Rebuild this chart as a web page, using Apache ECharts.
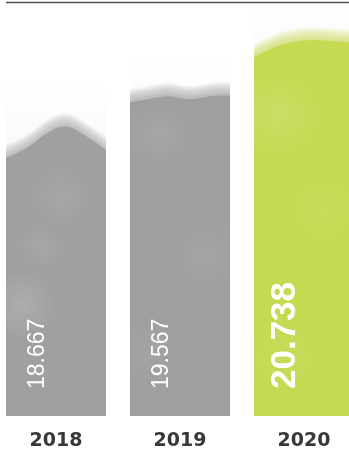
<!DOCTYPE html>
<html>
<head>
<meta charset="utf-8">
<script src="https://cdn.jsdelivr.net/npm/echarts@6/dist/echarts.min.js"></script>
<style>
  html, body { margin: 0; padding: 0; background: #ffffff; }
  #chart { width: 349px; height: 456px; }
</style>
</head>
<body>
<div id="chart"></div>
<script>
// Yearly totals
const years = ['2018', '2019', '2020'];
const values = [18.667, 19.567, 20.738];
const valueLabels = ['18.667', '19.567', '20.738'];

// Visual styling per bar
const barColors = ['#a0a0a0', '#9f9f9f', '#c5d951'];
const labelFonts = [
  '23px "Liberation Sans", Arial, sans-serif',
  '23px "Liberation Sans", Arial, sans-serif',
  'bold 35px "Liberation Sans", Arial, sans-serif'
];
// Brush-stroke outline of each bar's top edge (px, relative to the value line)
const edgeProfiles = [
  [18, 10, -7, -16, -4, 10],
  [4, 0, -3, 2, -3, -3],
  [13, 2, -3, -5, -3, -2]
];
// Lighter pigment pools inside each wash: [fx, fy, rx, ry, alpha] as fractions of the bar
const washSpots = [
  [[0.15, 0.62, 0.35, 0.12, 0.14], [0.55, 0.25, 0.4, 0.1, 0.08], [0.35, 0.42, 0.25, 0.08, 0.08]],
  [[0.3, 0.12, 0.45, 0.1, 0.08], [0.75, 0.5, 0.35, 0.15, 0.06], [0.2, 0.8, 0.3, 0.1, 0.05]],
  [[0.25, 0.2, 0.5, 0.12, 0.12], [0.7, 0.45, 0.4, 0.15, 0.06], [0.3, 0.85, 0.4, 0.1, 0.05]]
];

const Y_MIN = 12.66;
const Y_MAX = 21.49;
const BAR_RATIO = 100 / 124;

function topEdgePath(x0, w, yTop, profile, shift, base) {
  const pts = profile.map((d, i) => [x0 + w * i / (profile.length - 1), yTop + d + shift]);
  let p = 'M' + x0 + ' ' + base + ' L' + pts[0][0] + ' ' + pts[0][1];
  for (let i = 1; i < pts.length - 1; i++) {
    const mx = (pts[i][0] + pts[i + 1][0]) / 2;
    const my = (pts[i][1] + pts[i + 1][1]) / 2;
    p += ' Q' + pts[i][0] + ' ' + pts[i][1] + ' ' + mx + ' ' + my;
  }
  const last = pts[pts.length - 1];
  p += ' L' + last[0] + ' ' + last[1] + ' L' + (x0 + w) + ' ' + base + ' Z';
  return p;
}

function renderBar(params, api) {
  const idx = params.dataIndex;
  const cat = api.value(0);
  const val = api.value(1);
  const top = api.coord([cat, val]);
  const base = api.coord([cat, Y_MIN])[1];
  const w = api.size([1, 0])[0] * BAR_RATIO;
  const x0 = top[0] - w / 2;
  const color = barColors[idx];
  const profile = edgeProfiles[idx];
  const minTop = top[1] + Math.min.apply(null, profile);

  const children = [];
  // faint paper haze above the wash
  children.push({
    type: 'rect',
    shape: { x: x0, y: minTop - 48, width: w, height: base - minTop + 48 },
    style: {
      fill: {
        type: 'linear', x: 0, y: 0, x2: 0, y2: 1,
        colorStops: [
          { offset: 0, color: 'rgba(0,0,0,0)' },
          { offset: 0.15, color: 'rgba(0,0,0,0.016)' },
          { offset: 1, color: 'rgba(0,0,0,0.02)' }
        ]
      }
    },
    silent: true
  });
  // soft, feathered top edge built from many thin translucent washes
  for (let s = -13; s < 0; s += 1.5) {
    children.push({
      type: 'path',
      shape: { pathData: topEdgePath(x0, w, top[1], profile, s, base) },
      style: { fill: color, opacity: 0.11 },
      silent: true
    });
  }
  children.push({
    type: 'path',
    shape: { pathData: topEdgePath(x0, w, top[1], profile, 0, base) },
    style: { fill: color },
    silent: true
  });
  // mottled watercolor pools, kept inside the bar
  const h = base - minTop;
  const spots = washSpots[idx].map(function (s) {
    return {
      type: 'ellipse',
      shape: { cx: x0 + s[0] * w, cy: minTop + s[1] * h, rx: s[2] * w, ry: s[3] * h },
      style: {
        fill: {
          type: 'radial', x: 0.5, y: 0.5, r: 0.5,
          colorStops: [
            { offset: 0, color: 'rgba(255,255,255,' + s[4] + ')' },
            { offset: 1, color: 'rgba(255,255,255,0)' }
          ]
        }
      },
      silent: true
    };
  });
  children.push({
    type: 'group',
    clipPath: { type: 'rect', shape: { x: x0, y: minTop + 10, width: w, height: h - 10 } },
    children: spots
  });
  // value label, reading bottom to top
  children.push({
    type: 'text',
    x: top[0] - w * 0.185,
    y: base - 27,
    rotation: Math.PI / 2,
    style: {
      text: valueLabels[idx],
      fill: '#ffffff',
      font: labelFonts[idx],
      align: 'left',
      verticalAlign: 'middle'
    },
    silent: true
  });
  return { type: 'group', children: children };
}

const chart = echarts.init(document.getElementById('chart'), null, { renderer: 'canvas' });
chart.setOption({
  animation: false,
  backgroundColor: '#ffffff',
  grid: { left: -6, top: 10, width: 372, bottom: 40, outerBoundsMode: 'none', containLabel: false },
  xAxis: {
    type: 'category',
    data: years,
    axisLine: { show: false },
    axisTick: { show: false },
    axisLabel: {
      margin: 16,
      color: '#383838',
      fontSize: 19,
      fontWeight: 'bold',
      fontFamily: '"DejaVu Sans", sans-serif'
    }
  },
  yAxis: {
    type: 'value',
    min: Y_MIN,
    max: Y_MAX,
    show: false,
    splitLine: { show: false }
  },
  graphic: [{
    type: 'line',
    shape: { x1: 6, y1: 2.5, x2: 349, y2: 2.5 },
    style: { stroke: '#505050', lineWidth: 1.6 }
  }],
  series: [{
    type: 'custom',
    renderItem: renderBar,
    data: values.map((v, i) => [i, v]),
    encode: { x: 0, y: 1 },
    clip: false
  }]
});
</script>
</body>
</html>
